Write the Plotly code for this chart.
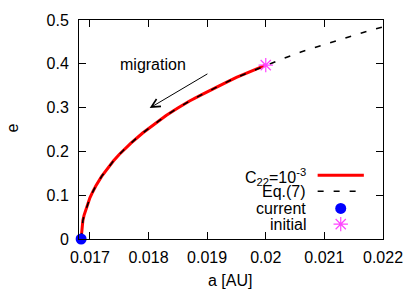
import plotly.graph_objects as go

# Data
a_c22 = [0.01685, 0.01686, 0.01688, 0.0169, 0.01695, 0.0170, 0.01705, 0.0171, 0.0172, 0.0173,
         0.0174, 0.0175, 0.0177, 0.0179, 0.0181, 0.0183, 0.0185, 0.0187, 0.0189, 0.0191,
         0.0193, 0.0195, 0.0197, 0.0200]
e_c22 = [0.0, 0.024, 0.042, 0.054, 0.077, 0.094, 0.108, 0.121, 0.143, 0.161,
         0.178, 0.193, 0.219, 0.242, 0.263, 0.282, 0.299, 0.315, 0.329, 0.343,
         0.356, 0.369, 0.380, 0.397]
a_eq7 = a_c22 + [0.0203, 0.0206, 0.0209, 0.0212, 0.0215, 0.0218, 0.0220]
e_eq7 = e_c22 + [0.412, 0.427, 0.440, 0.453, 0.465, 0.477, 0.484]
a_current = [0.01685]
e_current = [0.0]
a_initial = [0.0200]
e_initial = [0.397]

x_ticks = [0.017, 0.018, 0.019, 0.020, 0.021, 0.022]
x_ticktext = ["0.017", "0.018", "0.019", "0.02", "0.021", "0.022"]
y_ticks = [0, 0.1, 0.2, 0.3, 0.4, 0.5]
y_ticktext = ["0", "0.1", "0.2", "0.3", "0.4", "0.5"]

arrow_tail = (0.01903, 0.379)
arrow_head = (0.01802, 0.299)
migration_pos = (0.01808, 0.398)

FONT = "Liberation Sans, Arial, sans-serif"
fig = go.Figure()

fig.add_trace(go.Scatter(x=a_c22, y=e_c22, mode="lines",
                         line=dict(color="#ff0000", width=3), cliponaxis=False))
fig.add_trace(go.Scatter(x=a_eq7, y=e_eq7, mode="lines",
                         line=dict(color="black", width=1.6, dash="6px,10px"), cliponaxis=False))
fig.add_trace(go.Scatter(x=a_initial, y=e_initial, mode="markers",
                         marker=dict(symbol="asterisk-open", size=12, color="#ff44ff",
                                     line=dict(color="#ff44ff", width=1.2)), cliponaxis=False))
fig.add_trace(go.Scatter(x=a_current, y=e_current, mode="markers",
                         marker=dict(symbol="circle", size=11, color="#0000ff"), cliponaxis=False))

# legend samples on an overlay axis spanning the plot area (0..1)
leg_x = [0.861]
fig.add_trace(go.Scatter(x=leg_x, y=[0.1395], mode="markers", xaxis="x2", yaxis="y2",
                         marker=dict(symbol="circle", size=11, color="#0000ff")))
fig.add_trace(go.Scatter(x=leg_x, y=[0.068], mode="markers", xaxis="x2", yaxis="y2",
                         marker=dict(symbol="asterisk-open", size=12, color="#ff44ff",
                                     line=dict(color="#ff44ff", width=1.2))))
fig.add_trace(go.Scatter(x=[0.785, 0.937], y=[0.291, 0.291], mode="lines", xaxis="x2", yaxis="y2",
                         line=dict(color="#ff0000", width=3)))
fig.add_trace(go.Scatter(x=[0.785, 0.925], y=[0.218, 0.218], mode="lines", xaxis="x2", yaxis="y2",
                         line=dict(color="black", width=1.6, dash="6px,10px")))

axis_common = dict(showgrid=False, zeroline=False, showline=True, linecolor="black", linewidth=1,
                   mirror="ticks", ticks="inside", ticklen=7, tickcolor="black", tickwidth=1,
                   tickfont=dict(family=FONT, size=16, color="black"))

fig.update_layout(
    width=415, height=291,
    margin=dict(l=79, r=29, t=19, b=52),
    paper_bgcolor="white", plot_bgcolor="white",
    showlegend=False,
    xaxis=dict(range=[0.016814, 0.022], tickvals=x_ticks, ticktext=x_ticktext,
               ticklabelstandoff=4, **axis_common),
    yaxis=dict(range=[0, 0.5], tickvals=y_ticks, ticktext=y_ticktext,
               ticklabelstandoff=6, **axis_common),
    xaxis2=dict(range=[0, 1], overlaying="x", visible=False),
    yaxis2=dict(range=[0, 1], overlaying="y", visible=False),
    font=dict(family=FONT, size=16, color="black"),
)

ann_font = dict(family=FONT, size=16, color="black")
fig.add_annotation(x=arrow_head[0], y=arrow_head[1], ax=arrow_tail[0], ay=arrow_tail[1],
                   xref="x", yref="y", axref="x", ayref="y", text="", showarrow=True,
                   arrowhead=5, arrowsize=1.7, arrowwidth=1, arrowcolor="black")
fig.add_annotation(x=migration_pos[0], y=migration_pos[1], xref="x", yref="y",
                   text="migration", showarrow=False, font=ann_font)

legend_labels = ["C<sub>22</sub>=10<sup>-3</sup>", "Eq.(7)", "current", "initial"]
legend_y = [0.285, 0.218, 0.1395, 0.068]
for lab, yy in zip(legend_labels, legend_y):
    fig.add_annotation(x=0.7524, y=yy, xref="paper", yref="paper", text=lab, showarrow=False,
                       xanchor="right", yanchor="middle", font=ann_font)

fig.add_annotation(x=0, y=0.5045, xref="paper", yref="paper", text="e", showarrow=False,
                   textangle=-90, xanchor="center", yanchor="middle", xshift=-66, font=ann_font)
fig.add_annotation(x=0.498, y=0, xref="paper", yref="paper", text="a [AU]", showarrow=False,
                   xanchor="center", yanchor="middle", yshift=-41, font=ann_font)

fig.write_html("out.html", config={"displayModeBar": False},
               post_script="document.body.style.margin='0';")
